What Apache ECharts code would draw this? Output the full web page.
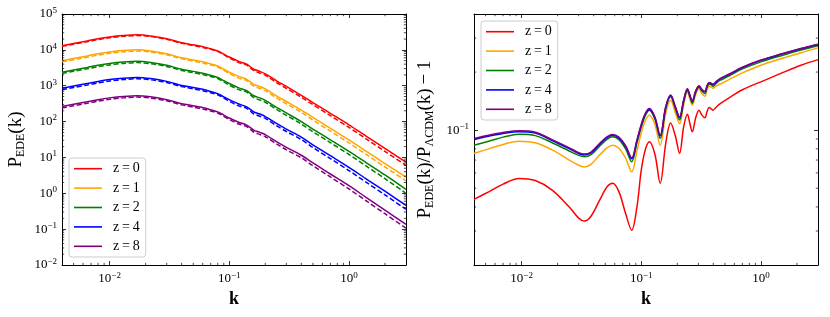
<!DOCTYPE html>
<html><head><meta charset="utf-8">
<script src="https://cdn.jsdelivr.net/npm/echarts@6/dist/echarts.min.js"></script>
<style>html,body{margin:0;padding:0;background:#fff}#c{width:830px;height:317px}</style>
</head><body><div id="c"></div>
<script>
// ---------------- data ----------------
const seriesNames = ['z=0', 'z=1', 'z=2', 'z=4', 'z=8'];
const colors = ['#ff0000', '#ffa500', '#008000', '#0000ff', '#800080'];

// left panel: P(k)
const kLeft = [0.004, 0.005, 0.0065, 0.008, 0.01, 0.013, 0.017, 0.022, 0.03, 0.04, 0.05, 0.06, 0.07, 0.08, 0.09, 0.1, 0.12, 0.14, 0.16, 0.18, 0.2, 0.25, 0.3, 0.4, 0.5, 0.7, 1.0, 1.4, 2.0, 3.0];
const pEDE_z0 = [13100, 15100, 17800, 20400, 22900, 25100, 26300, 24500, 20400, 15800, 13800, 12300, 10700, 9330, 7590, 6310, 4790, 3980, 2880, 2510, 2140, 1350, 955, 537, 339, 170, 81.3, 38.9, 17.8, 7.41];
const pEDE_z1 = [4980, 5740, 6760, 7750, 8700, 9540, 9990, 9310, 7750, 6000, 5240, 4670, 4070, 3550, 2880, 2400, 1820, 1510, 1090, 954, 813, 513, 363, 210, 130, 64.6, 30.9, 14.8, 6.76, 2.82];
const pEDE_z2 = [2380, 2750, 3240, 3710, 4170, 4570, 4790, 4460, 3710, 2880, 2510, 2240, 1950, 1700, 1380, 1150, 872, 724, 524, 457, 389, 246, 174, 100, 62, 31, 14.8, 7.08, 3.24, 1.28];
const pEDE_z4 = [846, 975, 1150, 1320, 1480, 1620, 1700, 1580, 1320, 1020, 891, 795, 691, 603, 490, 408, 309, 257, 186, 162, 138, 87.2, 61.7, 37, 22.5, 11.2, 5.3, 2.5, 1.14, 0.457];
const pEDE_z8 = [262, 302, 356, 408, 458, 502, 526, 490, 408, 316, 276, 246, 214, 187, 152, 126, 96, 80, 58, 50, 43, 27, 19.1, 11.5, 7.0, 3.45, 1.63, 0.76, 0.34, 0.135];
const pLCDM_z0 = [12500, 14400, 16900, 19400, 21700, 23800, 25000, 23500, 19700, 15200, 13200, 11700, 10300, 9050, 7320, 5950, 4420, 3770, 2660, 2270, 1970, 1210, 848, 476, 297, 146, 69.0, 32.5, 14.7, 6.02];
const pLCDM_z1 = [4630, 5320, 6240, 7140, 8000, 8790, 9240, 8670, 7270, 5600, 4850, 4310, 3790, 3340, 2700, 2190, 1630, 1390, 978, 837, 729, 448, 313, 180, 110, 53.9, 25.4, 12.0, 5.41, 2.23];
const pLCDM_z2 = [2200, 2530, 2970, 3390, 3810, 4180, 4410, 4130, 3450, 2670, 2310, 2050, 1800, 1590, 1280, 1040, 777, 663, 466, 398, 346, 214, 149, 85.3, 52.2, 25.7, 12.1, 5.70, 2.57, 1.00];
const pLCDM_z4 = [777, 893, 1050, 1200, 1350, 1480, 1560, 1460, 1230, 942, 817, 727, 637, 562, 454, 369, 274, 234, 165, 141, 123, 75.6, 52.8, 31.5, 18.9, 9.25, 4.31, 2.01, 0.903, 0.357];
const pLCDM_z8 = [240, 276, 325, 372, 417, 458, 482, 452, 379, 292, 253, 225, 197, 174, 140, 114, 85.2, 73.0, 51.2, 43.5, 38.1, 23.4, 16.3, 9.79, 5.87, 2.85, 1.32, 0.61, 0.269, 0.106];

// right panel: P_EDE/P_LCDM - 1
const kRatio = [0.004, 0.0053, 0.007, 0.0095, 0.013, 0.018, 0.025, 0.03, 0.0334, 0.038, 0.045, 0.052, 0.0577, 0.065, 0.074, 0.0832, 0.092, 0.1, 0.108, 0.117, 0.13, 0.144, 0.16, 0.176, 0.193, 0.209, 0.226, 0.243, 0.255, 0.267, 0.285, 0.304, 0.32, 0.34, 0.355, 0.369, 0.385, 0.398, 0.42, 0.454, 0.55, 0.7, 1.0, 1.5, 2.16, 3.0];
const ratio_z0 = [0.0438, 0.0479, 0.0525, 0.0562, 0.0548, 0.0489, 0.0400, 0.0350, 0.0338, 0.0358, 0.0435, 0.0510, 0.0530, 0.0480, 0.0370, 0.0303, 0.0400, 0.062, 0.079, 0.087, 0.075, 0.053, 0.085, 0.109, 0.093, 0.0757, 0.104, 0.121, 0.108, 0.098, 0.116, 0.127, 0.120, 0.116, 0.125, 0.131, 0.129, 0.127, 0.131, 0.137, 0.148, 0.162, 0.178, 0.198, 0.217, 0.232];
const ratio_z1 = [0.0757, 0.0800, 0.0843, 0.0877, 0.0860, 0.0790, 0.0700, 0.0658, 0.0645, 0.0665, 0.0745, 0.0812, 0.0836, 0.0805, 0.0715, 0.0608, 0.0780, 0.097, 0.112, 0.1196, 0.107, 0.0836, 0.122, 0.143, 0.123, 0.108, 0.135, 0.158, 0.145, 0.135, 0.153, 0.164, 0.155, 0.150, 0.162, 0.169, 0.167, 0.165, 0.169, 0.173, 0.184, 0.198, 0.217, 0.235, 0.252, 0.267];
const ratio_z2 = [0.0836, 0.0875, 0.0920, 0.0953, 0.0937, 0.0860, 0.0780, 0.0740, 0.0728, 0.0746, 0.0828, 0.0898, 0.0923, 0.0893, 0.0800, 0.0686, 0.0860, 0.104, 0.119, 0.127, 0.114, 0.0905, 0.129, 0.149, 0.129, 0.113, 0.140, 0.161, 0.149, 0.138, 0.157, 0.167, 0.160, 0.155, 0.167, 0.173, 0.172, 0.169, 0.174, 0.181, 0.192, 0.208, 0.226, 0.244, 0.260, 0.274];
const ratio_z4 = [0.0895, 0.0931, 0.0962, 0.0982, 0.0965, 0.0884, 0.0802, 0.0757, 0.0744, 0.0762, 0.0846, 0.0916, 0.0940, 0.0910, 0.0821, 0.0710, 0.0880, 0.106, 0.121, 0.128, 0.116, 0.0932, 0.131, 0.151, 0.131, 0.116, 0.142, 0.163, 0.151, 0.141, 0.159, 0.169, 0.162, 0.158, 0.169, 0.176, 0.174, 0.172, 0.177, 0.184, 0.195, 0.211, 0.230, 0.248, 0.264, 0.278];
const ratio_z8 = [0.0906, 0.0942, 0.0972, 0.0992, 0.0975, 0.0893, 0.0810, 0.0765, 0.0752, 0.0770, 0.0855, 0.0925, 0.0950, 0.0920, 0.0830, 0.0719, 0.0890, 0.107, 0.122, 0.1294, 0.117, 0.0942, 0.132, 0.152, 0.132, 0.117, 0.143, 0.164, 0.152, 0.142, 0.160, 0.170, 0.163, 0.159, 0.170, 0.1766, 0.175, 0.173, 0.178, 0.185, 0.196, 0.212, 0.231, 0.249, 0.265, 0.279];

// axis ranges and minor ticks
const kMin = 0.004, kMax = 3;
const pMin = 0.01, pMax = 1e5;
const rMin = 0.02, rMax = 0.4;
const xMinorTicks = [0.005, 0.006, 0.007, 0.008, 0.009, 0.02, 0.03, 0.04, 0.05, 0.06, 0.07, 0.08, 0.09, 0.2, 0.3, 0.4, 0.5, 0.6, 0.7, 0.8, 0.9, 2];
const yMinorTicksLeft = [0.02, 0.03, 0.04, 0.05, 0.06, 0.07, 0.08, 0.09, 0.2, 0.3, 0.4, 0.5, 0.6, 0.7, 0.8, 0.9, 2, 3, 4, 5, 6, 7, 8, 9, 20, 30, 40, 50, 60, 70, 80, 90, 200, 300, 400, 500, 600, 700, 800, 900, 2000, 3000, 4000, 5000, 6000, 7000, 8000, 9000, 20000, 30000, 40000, 50000, 60000, 70000, 80000, 90000];
const yMinorTicksRight = [0.03, 0.04, 0.05, 0.06, 0.07, 0.08, 0.09, 0.2, 0.3];

// ---------------- chart ----------------
const SERIF = "'Liberation Serif', 'DejaVu Serif', 'Times New Roman', serif";
const pEDE = [pEDE_z0, pEDE_z1, pEDE_z2, pEDE_z4, pEDE_z8];
const pLCDM = [pLCDM_z0, pLCDM_z1, pLCDM_z2, pLCDM_z4, pLCDM_z8];
const ratios = [ratio_z0, ratio_z1, ratio_z2, ratio_z4, ratio_z8];
const zip = (xs, ys) => xs.map((x, i) => [x, ys[i]]);

const MAJOR = 4, MINOR = 2.2;
function powLabel(v) {
  const l = Math.log10(v);
  const e = Math.round(l);
  if (Math.abs(l - e) > 1e-6) return '';
  return '{b|10}{s|' + (e < 0 ? '\u2212' + (-e) : e) + '}';
}
const labelRich = {
  b: { fontSize: 13, fontFamily: SERIF, color: '#000' },
  s: { fontSize: 9, fontFamily: SERIF, color: '#000', padding: [0, 0, 7, 0] }
};
function xAx(grid, pos, show) {
  return {
    type: 'log', logBase: 10, gridIndex: grid, position: pos, min: kMin, max: kMax,
    axisLine: { show: true, onZero: false, lineStyle: { color: '#000', width: 1 } },
    axisTick: { show: true, inside: true, length: MAJOR, lineStyle: { color: '#000', width: 0.8 } },
    axisLabel: { show: show, margin: 6, formatter: powLabel, rich: labelRich },
    splitLine: { show: false },
    name: show ? 'k' : '', nameLocation: 'middle', nameGap: 22,
    nameTextStyle: { fontFamily: SERIF, fontSize: 18, fontWeight: 'bold', color: '#000' }
  };
}
function yAx(grid, pos, show, mn, mx, name, gap) {
  return {
    type: 'log', logBase: 10, gridIndex: grid, position: pos, min: mn, max: mx,
    axisLine: { show: true, onZero: false, lineStyle: { color: '#000', width: 1 } },
    axisTick: { show: true, inside: true, length: MAJOR, lineStyle: { color: '#000', width: 0.8 } },
    axisLabel: { show: show, margin: 5, formatter: powLabel, rich: labelRich },
    splitLine: { show: false },
    name: name || '', nameLocation: 'middle', nameRotate: 90, nameGap: gap || 38,
    nameTextStyle: {
      fontFamily: SERIF, fontSize: 19, color: '#000',
      rich: {
        p: { fontFamily: SERIF, fontSize: 19, color: '#000' },
        sub: { fontFamily: SERIF, fontSize: 12, color: '#000', padding: [9, 0, 0, 0] }
      }
    }
  };
}

function minorX(gridIdx, xAxisIndex, yAxisIndex, yLo, yHi) {
  return {
    type: 'custom', xAxisIndex, yAxisIndex, silent: true, z: 5, clip: false,
    data: xMinorTicks.map(v => [v, yLo]),
    renderItem: (params, api) => {
      const x = api.value(0);
      const a = api.coord([x, yLo]);
      const b = api.coord([x, yHi]);
      const st = { stroke: '#000', lineWidth: 0.7 };
      return { type: 'group', children: [
        { type: 'line', shape: { x1: a[0], y1: a[1], x2: a[0], y2: a[1] - MINOR }, style: st },
        { type: 'line', shape: { x1: b[0], y1: b[1], x2: b[0], y2: b[1] + MINOR }, style: st }
      ] };
    }
  };
}
function minorY(ticks, xAxisIndex, yAxisIndex) {
  return {
    type: 'custom', xAxisIndex, yAxisIndex, silent: true, z: 5, clip: false,
    data: ticks.map(v => [kMin, v]),
    renderItem: (params, api) => {
      const y = api.value(1);
      const a = api.coord([kMin, y]);
      const b = api.coord([kMax, y]);
      const st = { stroke: '#000', lineWidth: 0.7 };
      return { type: 'group', children: [
        { type: 'line', shape: { x1: a[0], y1: a[1], x2: a[0] + MINOR, y2: a[1] }, style: st },
        { type: 'line', shape: { x1: b[0], y1: b[1], x2: b[0] - MINOR, y2: b[1] }, style: st }
      ] };
    }
  };
}

const series = [];
for (let i = 0; i < 5; i++) {
  series.push({
    name: seriesNames[i], type: 'line', xAxisIndex: 0, yAxisIndex: 0,
    data: zip(kLeft, pEDE[i]), symbol: 'none', smooth: 0.3, color: colors[i],
    lineStyle: { width: 1.5, color: colors[i] }, z: 3
  });
  series.push({
    name: seriesNames[i] + ' LCDM', type: 'line', xAxisIndex: 0, yAxisIndex: 0,
    data: zip(kLeft, pLCDM[i]), symbol: 'none', smooth: 0.3, color: colors[i],
    lineStyle: { width: 1.5, color: colors[i], type: [5, 2.5] }, z: 3
  });
}
for (let i = 0; i < 5; i++) {
  series.push({
    name: seriesNames[i], type: 'line', xAxisIndex: 2, yAxisIndex: 2,
    data: zip(kRatio, ratios[i]), symbol: 'none', smooth: 0.35, color: colors[i],
    lineStyle: { width: 1.5, color: colors[i] }, z: 3
  });
}
series.push(minorX(0, 0, 0, pMin, pMax));
series.push(minorY(yMinorTicksLeft, 0, 0));
series.push(minorX(1, 2, 2, rMin, rMax));
series.push(minorY(yMinorTicksRight, 2, 2));

function legendCfg(left, top) {
  return {
    data: seriesNames, orient: 'vertical', left: left, top: top,
    icon: 'rect', itemWidth: 28, itemHeight: 1.6, itemGap: 4,
    padding: [3, 6, 3, 5], backgroundColor: 'rgba(255,255,255,0.85)',
    borderColor: '#cccccc', borderWidth: 1, borderRadius: 3, selectedMode: false,
    formatter: n => n.replace('=', '\u2009=\u2009'),
    textStyle: { fontFamily: SERIF, fontSize: 14, color: '#000', lineHeight: 15.4, padding: [0, 0, 0, 6] }
  };
}

const option = {
  animation: false,
  backgroundColor: '#fff',
  grid: [
    { left: 62, top: 14, width: 344, height: 251 },
    { left: 474, top: 14, width: 344, height: 251 }
  ],
  xAxis: [xAx(0, 'bottom', true), xAx(0, 'top', false), xAx(1, 'bottom', true), xAx(1, 'top', false)],
  yAxis: [
    yAx(0, 'left', true, pMin, pMax, '{p|P}{sub|EDE}{p|(k)}', 35),
    yAx(0, 'right', false, pMin, pMax),
    yAx(1, 'left', true, rMin, rMax, '{p|P}{sub|EDE}{p|(k)/P}{sub|\u039bCDM}{p|(k)\u2009\u2212\u20091}', 38),
    yAx(1, 'right', false, rMin, rMax)
  ],
  legend: [legendCfg(69, 158), legendCfg(481, 21)],
  series: series
};
const chart = echarts.init(document.getElementById('c'), null, { renderer: 'canvas' });
chart.setOption(option);
</script></body></html>
